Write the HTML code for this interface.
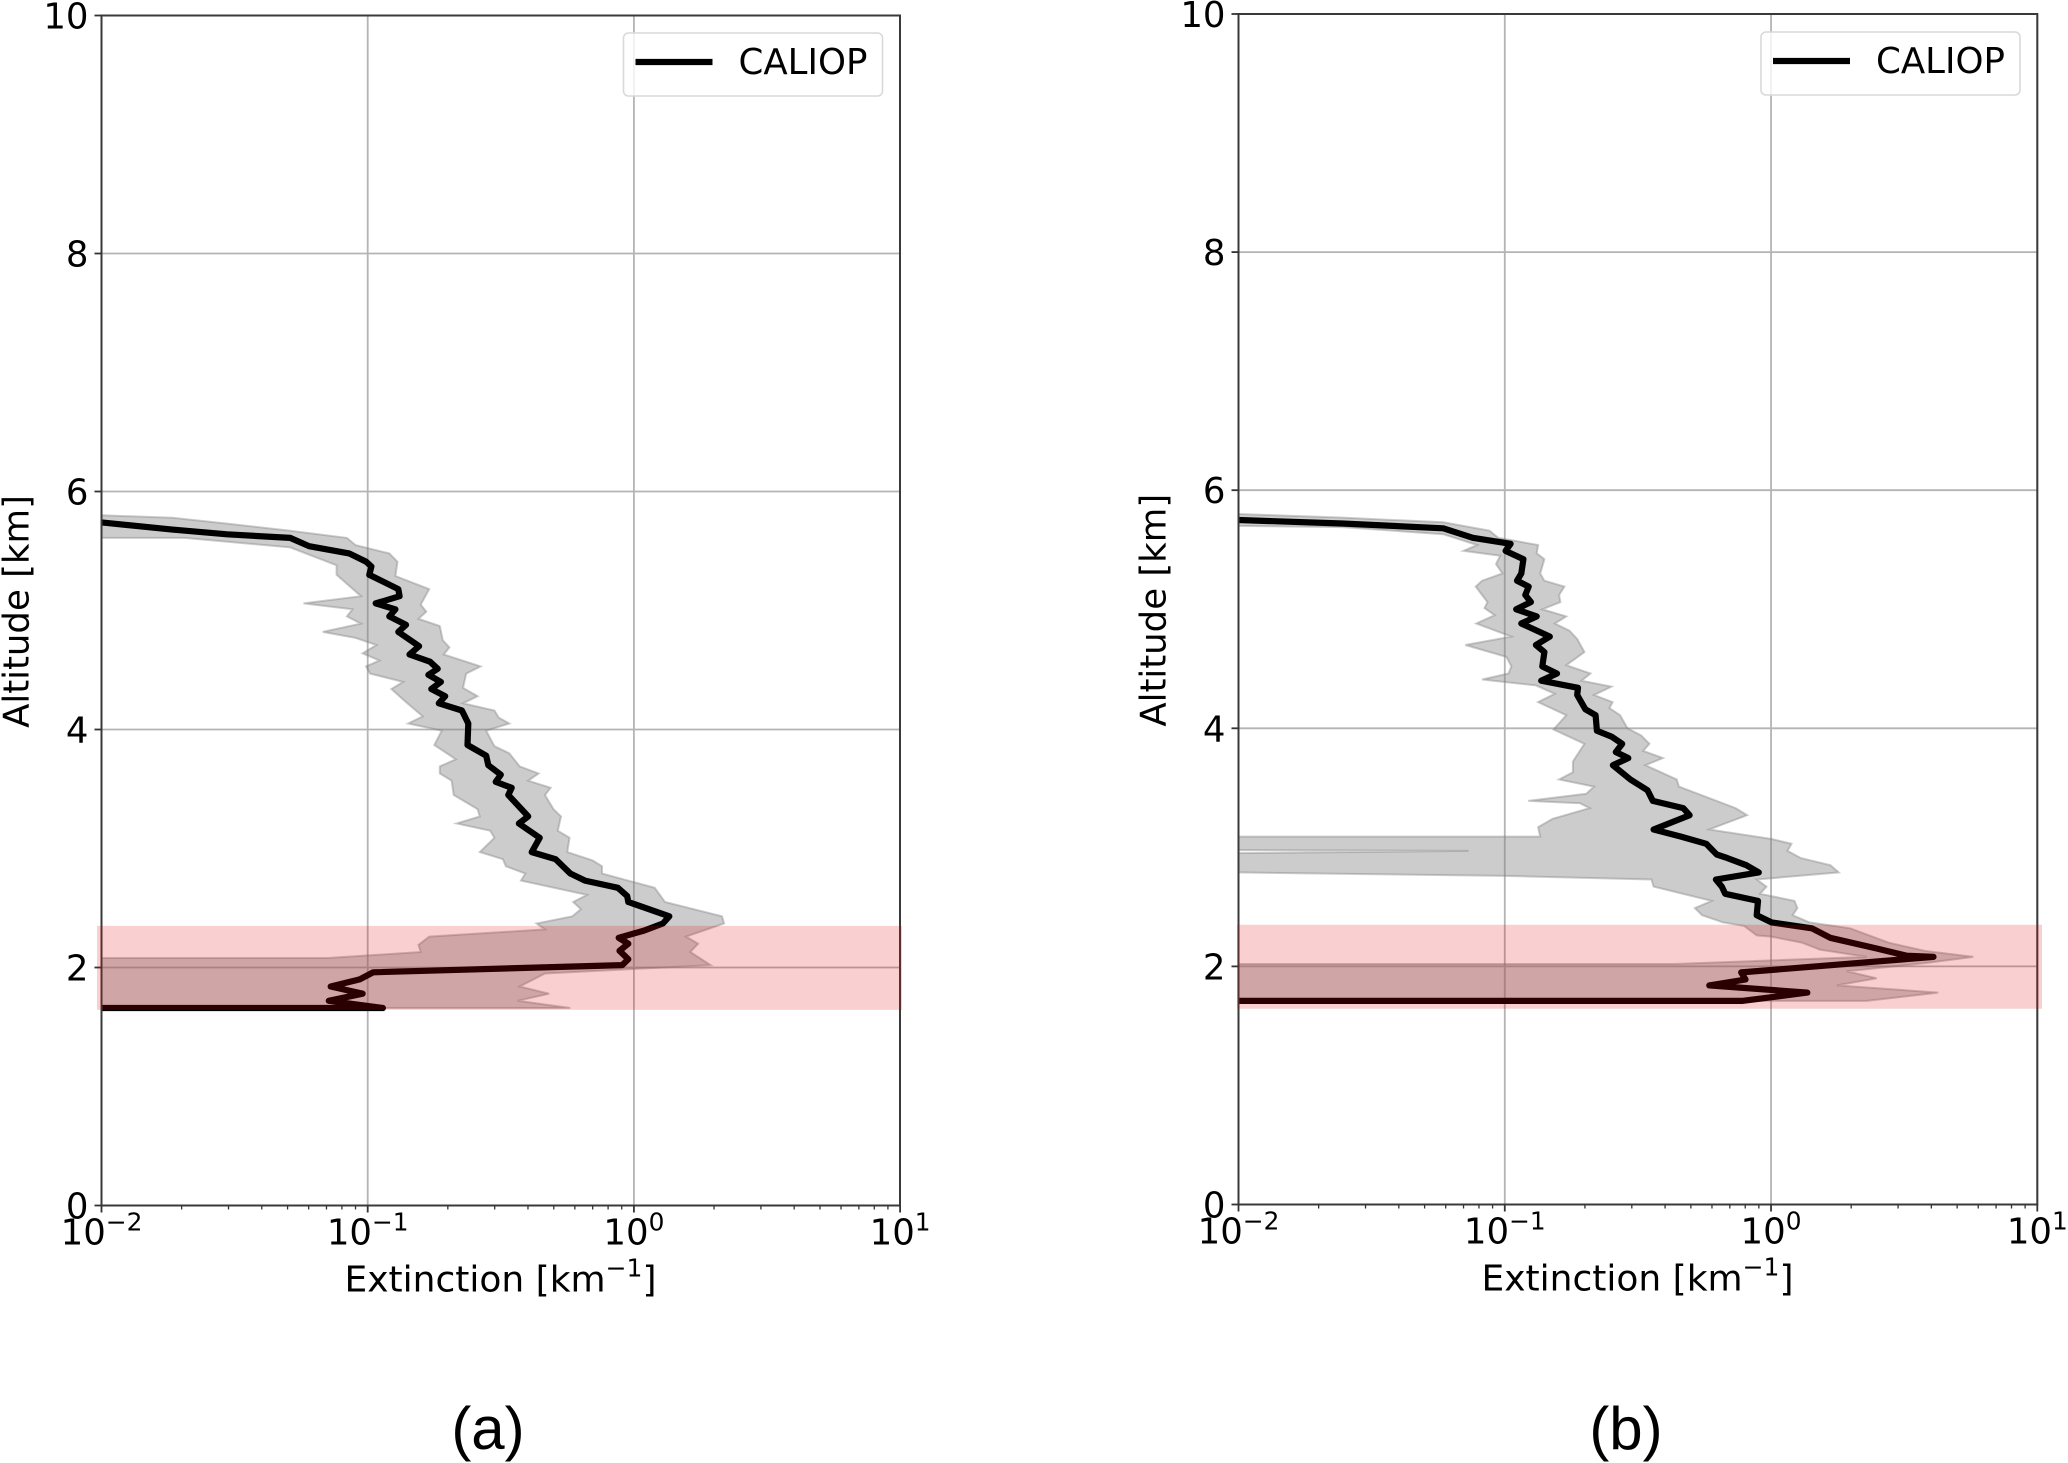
<!DOCTYPE html>
<html lang="en">
<head>
<meta charset="utf-8">
<title>CALIOP extinction profiles</title>
<style>
html,body{margin:0;padding:0;background:#fff;}
svg{display:block;}
text{font-family:"DejaVu Sans","Liberation Sans",sans-serif;fill:#000;}
.cap{font-family:"Liberation Sans",sans-serif;}
</style>
</head>
<body>
<svg id="figure" xmlns="http://www.w3.org/2000/svg" width="2068" height="1463" viewBox="0 0 2068 1463"></svg>
<script>
// Axis tick values
const yTicks = [0, 2, 4, 6, 8, 10];
const xDecades = [-2, -1, 0, 1];
const xMinorFactors = [2, 3, 4, 5, 6, 7, 8, 9];
const seriesName = 'CALIOP';

// Panel (a): mean profile, extinction as log10(km^-1), altitude in km
const aLineAlt = [5.74,5.68,5.64,5.61,5.54,5.48,5.41,5.37,5.30,5.18,5.12,5.06,5.01,4.95,4.88,4.82,4.70,4.63,4.57,4.51,4.46,4.40,4.34,4.28,4.22,4.16,4.05,3.87,3.78,3.70,3.62,3.56,3.51,3.45,3.27,3.21,3.09,2.97,2.91,2.79,2.73,2.67,2.60,2.55,2.43,2.37,2.31,2.25,2.20,2.14,2.07,2.02,1.96,1.90,1.84,1.78,1.72,1.66,1.66];
const aLineLogExt = [-2.00,-1.734,-1.528,-1.291,-1.220,-1.070,-1.006,-0.986,-0.994,-0.885,-0.880,-0.970,-0.896,-0.919,-0.856,-0.885,-0.807,-0.843,-0.766,-0.737,-0.772,-0.725,-0.761,-0.709,-0.733,-0.646,-0.622,-0.625,-0.555,-0.547,-0.500,-0.519,-0.459,-0.472,-0.397,-0.432,-0.354,-0.384,-0.294,-0.239,-0.184,-0.060,-0.025,-0.021,0.133,0.109,0.038,-0.057,-0.021,-0.054,-0.021,-0.044,-0.979,-1.030,-1.139,-1.019,-1.146,-0.943,-2.00];

// Panel (a): upper envelope, top to bottom
const aUpperAlt = [5.80,5.78,5.73,5.67,5.61,5.55,5.48,5.41,5.29,5.18,5.05,4.99,4.93,4.87,4.75,4.69,4.63,4.53,4.47,4.35,4.28,4.22,4.16,4.10,4.05,3.99,3.86,3.80,3.69,3.63,3.57,3.51,3.45,3.33,3.27,3.15,3.09,2.97,2.90,2.85,2.79,2.67,2.55,2.43,2.37,2.26,2.20,2.13,2.02,1.95,1.84,1.78,1.72,1.66];
const aUpperLogExt = [-2.00,-1.734,-1.528,-1.291,-1.078,-1.046,-0.919,-0.888,-0.896,-0.769,-0.801,-0.780,-0.809,-0.729,-0.718,-0.693,-0.714,-0.576,-0.630,-0.642,-0.587,-0.642,-0.524,-0.508,-0.468,-0.555,-0.524,-0.468,-0.429,-0.358,-0.397,-0.313,-0.334,-0.302,-0.274,-0.286,-0.242,-0.250,-0.155,-0.120,-0.120,0.078,0.117,0.331,0.339,0.196,0.241,0.212,0.288,-0.334,-0.429,-0.318,-0.437,-0.239];

// Panel (a): lower envelope, bottom to top
const aLowerAlt = [1.66,2.08,2.08,2.13,2.19,2.26,2.32,2.37,2.43,2.49,2.55,2.61,2.73,2.79,2.85,2.91,2.97,3.09,3.15,3.21,3.27,3.33,3.45,3.57,3.63,3.69,3.75,3.87,3.99,4.05,4.11,4.23,4.34,4.40,4.47,4.53,4.58,4.64,4.71,4.77,4.82,4.89,4.95,5.01,5.06,5.12,5.30,5.38,5.53,5.61,5.61];
const aLowerLogExt = [-2.5,-2.5,-1.149,-0.801,-0.809,-0.769,-0.334,-0.366,-0.231,-0.199,-0.228,-0.176,-0.424,-0.408,-0.481,-0.492,-0.579,-0.524,-0.540,-0.666,-0.579,-0.587,-0.677,-0.685,-0.729,-0.729,-0.669,-0.750,-0.722,-0.848,-0.793,-0.856,-0.911,-0.867,-0.991,-1.006,-0.956,-1.019,-0.967,-1.046,-1.169,-1.025,-1.078,-1.057,-1.241,-1.025,-1.117,-1.117,-1.291,-1.687,-2.00];

// Panel (b): mean profile
const bLineAlt = [5.75,5.72,5.68,5.60,5.55,5.49,5.42,5.30,5.24,5.19,5.12,5.06,5.00,4.94,4.88,4.77,4.70,4.64,4.52,4.46,4.40,4.34,4.28,4.16,4.11,3.98,3.93,3.87,3.80,3.75,3.69,3.57,3.48,3.39,3.33,3.27,3.15,3.09,3.03,2.94,2.91,2.85,2.79,2.73,2.67,2.61,2.55,2.43,2.37,2.32,2.24,2.15,2.09,2.08,1.95,1.89,1.84,1.78,1.71,1.71];
const bLineLogExt = [-2.00,-1.610,-1.231,-1.120,-0.978,-0.997,-0.930,-0.938,-0.954,-0.910,-0.923,-0.902,-0.957,-0.880,-0.938,-0.831,-0.883,-0.851,-0.859,-0.804,-0.863,-0.725,-0.728,-0.697,-0.659,-0.654,-0.599,-0.559,-0.583,-0.536,-0.594,-0.528,-0.464,-0.444,-0.330,-0.306,-0.441,-0.338,-0.243,-0.204,-0.164,-0.093,-0.046,-0.207,-0.185,-0.172,-0.049,-0.054,0.002,0.153,0.222,0.397,0.509,0.610,-0.112,-0.096,-0.232,0.136,-0.109,-2.00];

// Panel (b): upper envelope, top to bottom
const bUpperAlt = [5.80,5.77,5.73,5.66,5.60,5.54,5.47,5.42,5.30,5.24,5.19,5.12,5.06,5.00,4.94,4.88,4.82,4.75,4.64,4.53,4.46,4.40,4.35,4.28,4.22,4.17,4.11,4.00,3.94,3.87,3.81,3.75,3.69,3.57,3.51,3.33,3.27,3.15,3.07,3.03,2.97,2.91,2.85,2.79,2.73,2.67,2.61,2.55,2.49,2.43,2.37,2.32,2.20,2.13,2.08,2.03,1.96,1.90,1.84,1.78,1.71];
const bUpperLogExt = [-2.00,-1.610,-1.231,-1.057,-1.025,-0.875,-0.880,-0.851,-0.867,-0.851,-0.776,-0.796,-0.791,-0.859,-0.769,-0.812,-0.757,-0.728,-0.701,-0.769,-0.678,-0.712,-0.599,-0.665,-0.595,-0.607,-0.567,-0.539,-0.488,-0.457,-0.480,-0.406,-0.472,-0.354,-0.346,-0.133,-0.090,-0.232,0.002,0.077,0.062,0.112,0.223,0.254,-0.054,-0.017,-0.041,0.088,0.099,0.081,0.144,0.297,0.441,0.578,0.760,0.590,0.284,0.397,0.247,0.628,0.360];

// Panel (b): lower envelope, bottom to top
const bLowerAlt = [1.71,1.71,2.02,2.02,2.08,2.14,2.20,2.25,2.26,2.34,2.37,2.43,2.49,2.55,2.67,2.73,2.76,2.79,2.94,2.97,2.98,3.09,3.09,3.17,3.24,3.33,3.37,3.39,3.45,3.51,3.57,3.63,3.72,3.87,3.99,4.11,4.22,4.29,4.36,4.41,4.46,4.52,4.60,4.70,4.77,4.88,4.95,5.01,5.06,5.19,5.24,5.30,5.38,5.45,5.49,5.54,5.63,5.69,5.70];
const bLowerLogExt = [-0.25,-2.5,-2.5,-0.362,0.359,0.184,0.115,0,-0.054,-0.101,-0.180,-0.259,-0.286,-0.223,-0.441,-0.449,-1.0,-2.0,-2.5,-1.136,-2.5,-2.5,-0.867,-0.875,-0.820,-0.681,-0.717,-0.912,-0.694,-0.665,-0.796,-0.744,-0.744,-0.701,-0.817,-0.769,-0.875,-0.812,-0.883,-1.085,-0.986,-0.975,-0.994,-1.148,-0.975,-1.107,-1.038,-1.076,-1.065,-1.109,-1.085,-1.009,-1.033,-1.017,-1.155,-1.104,-1.231,-1.610,-2.00];

const NS = 'http://www.w3.org/2000/svg';
const root = document.getElementById('figure');

function make(parent, tag, props) {
  const el = document.createElementNS(NS, tag);
  for (const k in props) el.setAttribute(k, props[k]);
  parent.appendChild(el);
  return el;
}

function drawPanel(p) {
  const x = l => p.left + (l + 2) * p.decade;
  const y = a => p.bottom - a * p.km;

  const g = make(root, 'g', {});
  
  

  const clip = make(g, 'clipPath', {id: 'clip-' + p.id});
  make(clip, 'rect', {x: p.left, y: p.top, width: p.right - p.left, height: p.bottom - p.top});

  // Grid
  for (const d of xDecades) {
    const gl = make(g, 'line', {x1: x(d), x2: x(d), y1: p.top, y2: p.bottom, stroke: '#b4b4b4', 'stroke-width': 1.8});
    
    
  }
  for (const t of yTicks) {
    const gl = make(g, 'line', {x1: p.left, x2: p.right, y1: y(t), y2: y(t), stroke: '#b4b4b4', 'stroke-width': 1.8});
    
    
  }

  // Envelope
  const pts = [];
  p.upperAlt.forEach((a, i) => pts.push(x(p.upperLog[i]).toFixed(1) + ',' + y(a).toFixed(1)));
  p.lowerAlt.forEach((a, i) => pts.push(x(p.lowerLog[i]).toFixed(1) + ',' + y(a).toFixed(1)));
  const env = make(g, 'polygon', {points: pts.join(' '), fill: 'rgba(128,128,128,0.4)', stroke: 'rgba(128,128,128,0.4)', 'stroke-width': 2, 'stroke-linejoin': 'miter', 'clip-path': 'url(#clip-' + p.id + ')'});
  
  

  // Mean line
  const linePts = p.lineAlt.map((a, i) => x(p.lineLog[i]).toFixed(1) + ',' + y(a).toFixed(1)).join(' ');
  const line = make(g, 'polyline', {points: linePts, fill: 'none', stroke: '#000', 'stroke-width': 6.2, 'stroke-linejoin': 'round', 'stroke-linecap': 'round', 'clip-path': 'url(#clip-' + p.id + ')'});
  
  

  // Spines
  const spines = make(g, 'rect', {x: p.left, y: p.top, width: p.right - p.left, height: p.bottom - p.top, fill: 'none', stroke: '#3a3a3a', 'stroke-width': 2});
  
  

  // Y ticks
  for (const t of yTicks) {
    make(g, 'line', {x1: p.left - 7, x2: p.left, y1: y(t), y2: y(t), stroke: '#333', 'stroke-width': 1.8});
    const lab = make(g, 'text', {x: p.left - 13, y: y(t) + 13, 'text-anchor': 'end', 'font-size': 35.5});
    lab.textContent = String(t);
    
    
  }

  // X ticks
  for (const d of xDecades) {
    make(g, 'line', {x1: x(d), x2: x(d), y1: p.bottom, y2: p.bottom + 7, stroke: '#333', 'stroke-width': 1.8});
    if (d < 1) {
      for (const f of xMinorFactors) {
        const mx = x(d + Math.log10(f));
        make(g, 'line', {x1: mx, x2: mx, y1: p.bottom, y2: p.bottom + 4, stroke: '#333', 'stroke-width': 1.3});
      }
    }
    const lab = make(g, 'text', {x: x(d), y: p.bottom + 39, 'text-anchor': 'middle', 'font-size': 35.5});
    
    
    lab.appendChild(document.createTextNode('10'));
    const sup = make(lab, 'tspan', {dy: -14, 'font-size': 24.8});
    sup.textContent = String(d).replace('-', '\u2212');
  }

  // Axis titles
  const xt = make(g, 'text', {x: p.left + 399, y: p.bottom + 86, 'text-anchor': 'middle', 'font-size': 36});
  
  
  xt.appendChild(document.createTextNode('Extinction [km'));
  const s1 = make(xt, 'tspan', {dy: -15, 'font-size': 25});
  s1.textContent = '\u22121';
  const s2 = make(xt, 'tspan', {dy: 15});
  s2.textContent = ']';

  const yt = make(g, 'text', {transform: 'translate(' + (p.left - 73) + ',' + ((p.top + p.bottom) / 2 + 1) + ') rotate(-90)', 'text-anchor': 'middle', 'font-size': 35.5});
  yt.textContent = 'Altitude [km]';
  
  

  // Legend
  const lg = make(g, 'g', {});
  
  
  make(lg, 'rect', {x: p.legendX, y: p.legendY, width: 259, height: 63, rx: 5, fill: 'rgba(255,255,255,0.8)', stroke: '#d9d9d9', 'stroke-width': 1.6});
  make(lg, 'line', {x1: p.legendX + 12, x2: p.legendX + 89, y1: p.legendY + 29, y2: p.legendY + 29, stroke: '#000', 'stroke-width': 6.2});
  const lt = make(lg, 'text', {x: p.legendX + 115, y: p.legendY + 41, 'font-size': 35.6});
  lt.textContent = seriesName;
  
  

  // Highlight band
  const band = make(g, 'rect', {x: p.bandLeft, y: y(2.35) , width: p.bandRight - p.bandLeft, height: 84, fill: 'rgba(221,0,0,0.19)'});
  
  

  // Caption
  const cap = make(g, 'text', {x: p.capX, y: 1449, 'text-anchor': 'middle', 'font-size': 60, 'class': 'cap'});
  cap.textContent = p.caption;
  
  
}

drawPanel({
  id: 'a', caption: '(a)', capX: 488,
  left: 101.5, right: 900, top: 15.5, bottom: 1205.5, decade: 266.2, km: 119,
  legendX: 623.5, legendY: 33, bandLeft: 97, bandRight: 902,
  lineAlt: aLineAlt, lineLog: aLineLogExt,
  upperAlt: aUpperAlt, upperLog: aUpperLogExt,
  lowerAlt: aLowerAlt, lowerLog: aLowerLogExt
});

drawPanel({
  id: 'b', caption: '(b)', capX: 1626,
  left: 1238.5, right: 2037.3, top: 14, bottom: 1204.5, decade: 266.27, km: 119.05,
  legendX: 1761, legendY: 32, bandLeft: 1237, bandRight: 2042,
  lineAlt: bLineAlt, lineLog: bLineLogExt,
  upperAlt: bUpperAlt, upperLog: bUpperLogExt,
  lowerAlt: bLowerAlt, lowerLog: bLowerLogExt
});
</script>
</body>
</html>
